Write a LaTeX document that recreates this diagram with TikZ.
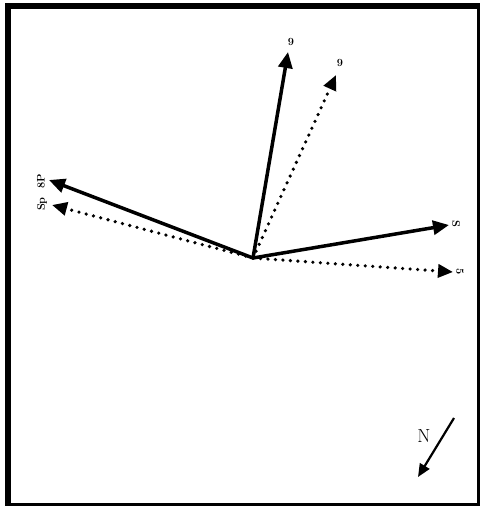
\documentclass[tikz,border=0pt]{standalone}
\usetikzlibrary{arrows.meta}
\begin{document}
\begin{tikzpicture}[x=1bp,y=-1bp,
  solidvec/.style={line width=3.5bp,-{Triangle[length=16bp,width=14bp]}},
  dotvec/.style={line width=3.6bp,line cap=round,dash pattern=on 0bp off 7.5bp,-{Triangle[length=15bp,width=13bp]}},
  lab/.style={font=\bfseries\fontsize{11}{12}\selectfont,inner sep=0pt}]
\useasboundingbox (0,0) rectangle (482,510);
% frame
\draw[line width=3bp] (6.5,4.5) rectangle (478.5,504.5);
\fill (5,3) rectangle (11,505);
\fill (5,3) rectangle (478,9);
% center
\coordinate (o) at (253,258);
\coordinate (t1) at (288,52);
\coordinate (t2) at (336,75);
\coordinate (l1) at (49,180);
\coordinate (l2) at (52,205);
\coordinate (r1) at (449,225);
\coordinate (r2) at (453,272);
\draw[solidvec] (o) -- (t1);
\draw[dotvec] (o) -- (t2);
\draw[solidvec] (o) -- (l1);
\draw[dotvec] (o) -- (l2);
\draw[solidvec] (o) -- (r1);
\draw[dotvec] (o) -- (r2);
\node[lab] (lt1) at (291,42) {9};
\node[lab] (lt2) at (340,63) {9};
\node[lab,rotate=90] (ll1) at (41,181) {8P};
\node[lab,rotate=90] (ll2) at (42,204) {Sp};
\node[lab,rotate=-90] (lr1) at (456,224) {S};
\node[lab,rotate=-90] (lr2) at (460,272) {5};
% north arrow
\coordinate (n1) at (454,418);
\coordinate (n2) at (418,477);
\draw[line width=2.2bp,-{Triangle[length=13bp,width=11bp]}] (n1) -- (n2);
\node[font=\fontsize{19}{22}\selectfont,inner sep=0pt] (nl) at (424,436) {N};
\end{tikzpicture}
\end{document}
